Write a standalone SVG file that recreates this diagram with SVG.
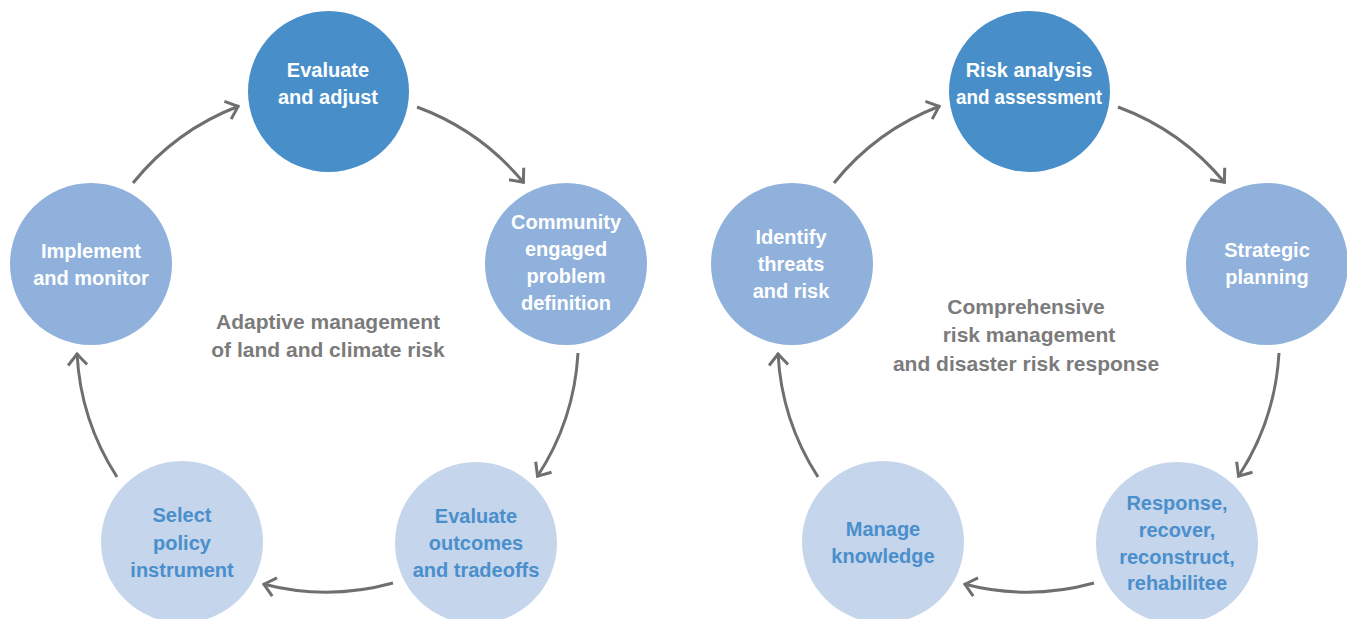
<svg xmlns="http://www.w3.org/2000/svg" width="1347" height="619" viewBox="0 0 1347 619">
<defs>
<style>
.dark{fill:#488fca}
.mid{fill:#8fb1dc}
.light{fill:#c4d5ec}
.t{font-family:"Liberation Sans",Arial,sans-serif;font-weight:bold;font-size:20px;text-anchor:middle}
.tw{fill:#ffffff}
.tb{fill:#4a8fcb}
.lbl{font-family:"Liberation Sans",Arial,sans-serif;font-weight:bold;font-size:21px;text-anchor:middle;fill:#7b7b7b}
.arr{fill:none;stroke:#6f6f6f;stroke-width:3;marker-end:url(#chev)}
</style>
<marker id="chev" markerUnits="userSpaceOnUse" markerWidth="30" markerHeight="30" viewBox="-20 -15 25 30" refX="1" refY="0" orient="auto" overflow="visible">
<path d="M-11,-9.5 L0,0 L-11,9.5" fill="none" stroke="#6f6f6f" stroke-width="3"/>
</marker>
</defs>
<rect width="1347" height="619" fill="#ffffff"/>

<g id="connectors">
<path class="arr" d="M133,183 A251,251 0 0 1 239,106"/>
<path class="arr" d="M417,107 A251,251 0 0 1 524,183"/>
<path class="arr" d="M578,353 A251,251 0 0 1 537,477"/>
<path class="arr" d="M393,583 A251,251 0 0 1 263,584"/>
<path class="arr" d="M117,477 A251,251 0 0 1 77,353"/>
<path class="arr" d="M834,183 A251,251 0 0 1 940,106"/>
<path class="arr" d="M1118,107 A251,251 0 0 1 1225,183"/>
<path class="arr" d="M1279,353 A251,251 0 0 1 1238,477"/>
<path class="arr" d="M1094,583 A251,251 0 0 1 964,584"/>
<path class="arr" d="M818,477 A251,251 0 0 1 778,353"/>
</g>

<g id="evaluate-adjust">
<circle class="dark" cx="328.5" cy="91.5" r="80.5"/>
<text class="t tw" x="328" y="77">Evaluate</text>
<text class="t tw" x="328" y="104">and adjust</text>
</g>
<g id="community-engaged">
<circle class="mid" cx="566" cy="264" r="81"/>
<text class="t tw" x="566" y="229">Community</text>
<text class="t tw" x="566" y="256">engaged</text>
<text class="t tw" x="566" y="283">problem</text>
<text class="t tw" x="566" y="310">definition</text>
</g>
<g id="evaluate-outcomes">
<circle class="light" cx="476" cy="543" r="81"/>
<text class="t tb" x="476" y="523">Evaluate</text>
<text class="t tb" x="476" y="550">outcomes</text>
<text class="t tb" x="476" y="577">and tradeoffs</text>
</g>
<g id="select-policy">
<circle class="light" cx="182" cy="542" r="81"/>
<text class="t tb" x="182" y="522">Select</text>
<text class="t tb" x="182" y="550">policy</text>
<text class="t tb" x="182" y="577">instrument</text>
</g>
<g id="implement-monitor">
<circle class="mid" cx="91" cy="264" r="81"/>
<text class="t tw" x="91" y="258">Implement</text>
<text class="t tw" x="91" y="285">and monitor</text>
</g>
<g id="label-left">
<text class="lbl" x="328" y="329">Adaptive management</text>
<text class="lbl" x="328" y="357">of land and climate risk</text>
</g>

<g id="risk-analysis">
<circle class="dark" cx="1029.5" cy="91.5" r="80.5"/>
<text class="t tw" x="1029" y="77">Risk analysis</text>
<text class="t tw" x="1029" y="104" textLength="146" lengthAdjust="spacingAndGlyphs">and assessment</text>
</g>
<g id="strategic-planning">
<circle class="mid" cx="1267" cy="264" r="81"/>
<text class="t tw" x="1267" y="257">Strategic</text>
<text class="t tw" x="1267" y="284">planning</text>
</g>
<g id="response">
<circle class="light" cx="1177" cy="543" r="81"/>
<text class="t tb" x="1177" y="510">Response,</text>
<text class="t tb" x="1177" y="537">recover,</text>
<text class="t tb" x="1177" y="564">reconstruct,</text>
<text class="t tb" x="1177" y="590">rehabilitee</text>
</g>
<g id="manage-knowledge">
<circle class="light" cx="883" cy="542" r="81"/>
<text class="t tb" x="883" y="536">Manage</text>
<text class="t tb" x="883" y="563">knowledge</text>
</g>
<g id="identify-threats">
<circle class="mid" cx="792" cy="264" r="81"/>
<text class="t tw" x="791" y="244">Identify</text>
<text class="t tw" x="791" y="271">threats</text>
<text class="t tw" x="791" y="298">and risk</text>
</g>
<g id="label-right">
<text class="lbl" x="1026" y="314">Comprehensive</text>
<text class="lbl" x="1029" y="342">risk management</text>
<text class="lbl" x="1026" y="371">and disaster risk response</text>
</g>
</svg>
